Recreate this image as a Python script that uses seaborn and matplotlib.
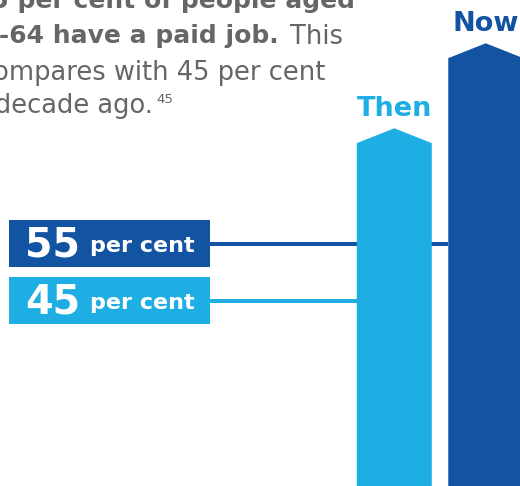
import numpy as np
import pandas as pd
import matplotlib
matplotlib.use("Agg")
import matplotlib.pyplot as plt
import matplotlib.transforms as mtransforms
from matplotlib.patches import Polygon, Rectangle
import seaborn as sns

# Data
periods = ["Then", "Now"]
share_employed = [45, 55]          # per cent of people aged 15-64 with a paid job
box_numbers = ["55", "45"]          # labels in the left boxes (top first)
box_unit = "per cent"
intro_bold_1 = "55 per cent of people aged"
intro_bold_2 = "15-64 have a paid job."
intro_regular_2 = "This"
intro_regular_3 = "compares with 45 per cent"
intro_regular_4 = "a decade ago."
footnote = "45"

# Style
LIGHT = "#1EAEE3"
DARK = "#1254A2"
GREY = "#666666"
W, H = 520, 486
ARROW_DROP = 1.75                  # height of the arrow head, in value units

sns.set_theme(style="white")
plt.rcParams["font.family"] = ["DejaVu Sans"]

fig = plt.figure(figsize=(W / 100, H / 100), dpi=100)
ax = fig.add_axes([0, 0, 1, 1])

df = pd.DataFrame({"period": periods, "value": share_employed})
sns.barplot(data=df, x="period", y="value", hue="period", order=periods,
            palette=[LIGHT, DARK], width=0.82, legend=False, ax=ax,
            saturation=1, zorder=3)

# turn the bars into upward arrows
for bar in list(ax.patches):
    x0, w, h = bar.get_x(), bar.get_width(), bar.get_height()
    pts = [(x0, 0), (x0, h - ARROW_DROP), (x0 + w / 2, h),
           (x0 + w, h - ARROW_DROP), (x0 + w, 0)]
    ax.add_patch(Polygon(pts, closed=True, facecolor=bar.get_facecolor(),
                         edgecolor="none", zorder=3))
    bar.set_visible(False)

for i, (name, val) in enumerate(zip(periods, share_employed)):
    ax.annotate(name, xy=(i, val), xytext=(0, 9), textcoords="offset points",
                ha="center", va="baseline", fontsize=19.5, fontweight="bold",
                color=LIGHT if i == 0 else DARK)

ax.set_xlim(-4.309, 1.374)
ax.set_ylim(2.92, 60.09)
ax.set_axis_off()

# pixel coordinates (origin top-left) for the layout pieces
px = mtransforms.Affine2D().scale(1 / W, -1 / H).translate(0, 1) + fig.transFigure

# connector lines behind the arrows
ax.plot([210, 448], [244, 244], color=DARK, lw=2.9, transform=px, zorder=1,
        solid_capstyle="butt")
ax.plot([210, 357], [300.8, 300.8], color=LIGHT, lw=2.9, transform=px, zorder=1,
        solid_capstyle="butt")

# boxes with the percentages
for num, top, col in zip(box_numbers, [220, 277], [DARK, LIGHT]):
    ax.add_patch(Rectangle((9, top), 201, 47, transform=px, facecolor=col,
                           edgecolor="none", clip_on=False, zorder=4))
    ax.text(25, top + 36.7, num, transform=px, ha="left", va="baseline",
            fontsize=28.5, fontweight="bold", color="white", zorder=5)
    ax.text(90, top + 31.7, box_unit, transform=px, ha="left", va="baseline",
            fontsize=16, fontweight="bold", color="white", zorder=5)

# intro paragraph (cropped at the left edge, as in the original layout)
body = dict(transform=px, va="baseline", color=GREY)
ax.text(355, 8, intro_bold_1, ha="right", fontsize=18, fontweight="bold", **body)
ax.text(343, 43.5, intro_regular_2, ha="right", fontsize=18.5, **body)
ax.text(279, 43.5, intro_bold_2, ha="right", fontsize=18, fontweight="bold", **body)
ax.text(325, 79.5, intro_regular_3, ha="right", fontsize=18.5, **body)
ax.text(153, 113, intro_regular_4, ha="right", fontsize=18.5, **body)
ax.text(156, 103.3, footnote, ha="left", fontsize=9.5, **body)

fig.savefig("out.png", dpi=100)
